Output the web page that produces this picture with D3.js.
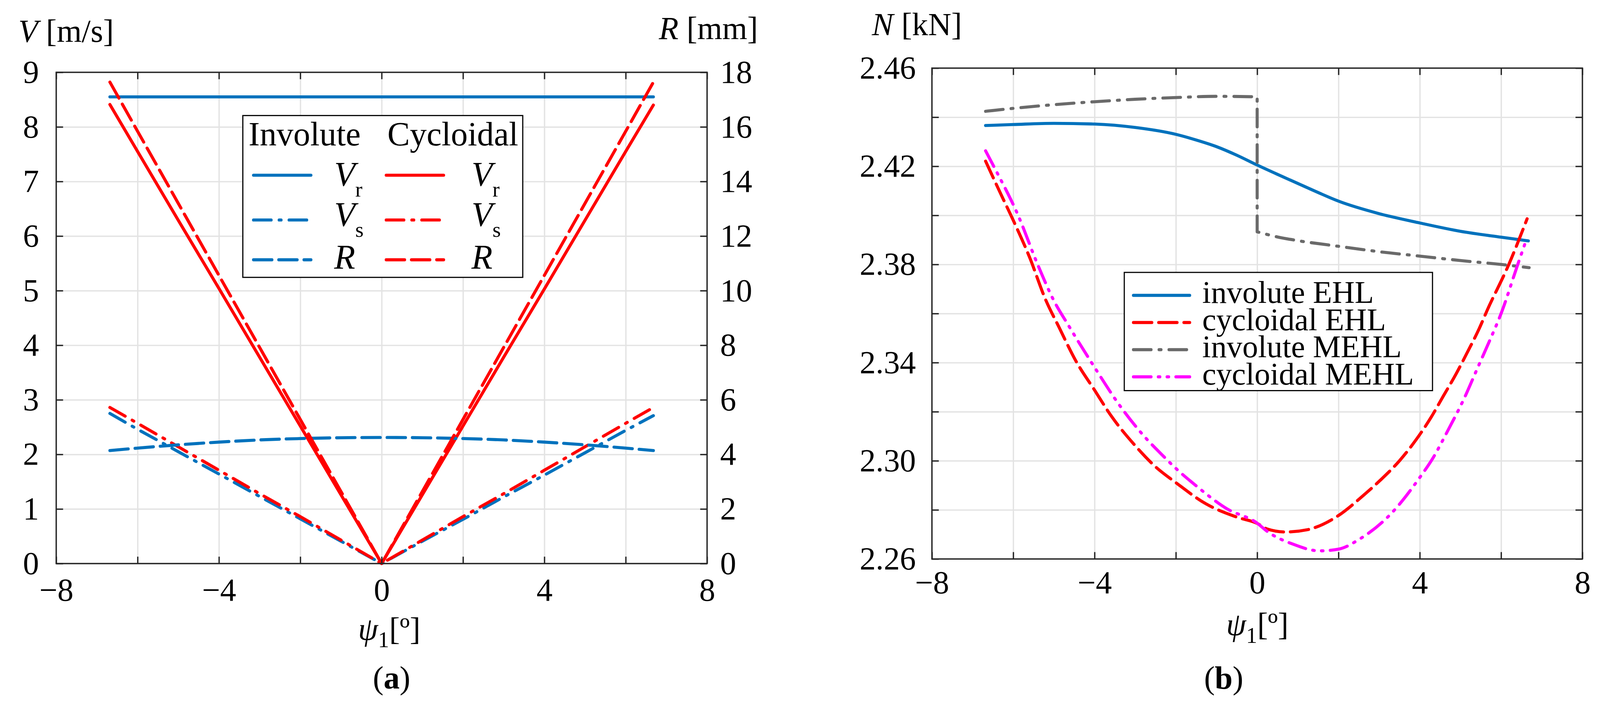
<!DOCTYPE html>
<html>
<head>
<meta charset="utf-8">
<script src="https://cdn.jsdelivr.net/npm/d3@7"></script>
<style>
	html, body { margin: 0; padding: 0; background: #fff; overflow: hidden; }
	svg { display: block; width: 100vw; height: auto; font-family: 'Liberation Serif', 'Times New Roman', serif; }
	.grid line { stroke: #e3e3e3; stroke-width: 3.5; }
	.grid .domain, .axis .domain { display: none; }
	.axis line { stroke: #262626; stroke-width: 3.5; }
	.axis text { fill: #000; font-size: 84px; font-family: 'Liberation Serif', 'Times New Roman', serif; }
	.series { fill: none; stroke-width: 8; stroke-linecap: round; stroke-linejoin: round; }
</style>
</head>
<body>
<svg id="chart" viewBox="0 0 4184 1850" preserveAspectRatio="xMinYMin meet"></svg>
<script>
// ---- data, panel (a): velocities [m/s] and radius [mm] vs psi1 [deg]
const psiA   = [-6.68, -6, -5, -4, -3, -2, -1, 0, 1, 2, 3, 4, 5, 6, 6.68];
const invVr  = [8.55, 8.55, 8.55, 8.55, 8.55, 8.55, 8.55, 8.55, 8.55, 8.55, 8.55, 8.55, 8.55, 8.55, 8.55];
const invVs  = [2.75, 2.46, 2.05, 1.64, 1.23, 0.82, 0.41, 0, 0.41, 0.81, 1.22, 1.62, 2.03, 2.44, 2.71];
const invR   = [4.14, 4.23, 4.35, 4.45, 4.53, 4.58, 4.61, 4.62, 4.61, 4.58, 4.53, 4.45, 4.35, 4.23, 4.14];
const cycVr  = [8.41, 7.55, 6.29, 5.04, 3.78, 2.52, 1.26, 0, 1.26, 2.52, 3.78, 5.03, 6.29, 7.55, 8.40];
const cycVs  = [2.86, 2.57, 2.14, 1.71, 1.28, 0.86, 0.43, 0, 0.43, 0.86, 1.28, 1.71, 2.14, 2.57, 2.86];
const cycR   = [17.64, 15.84, 13.20, 10.56, 7.92, 5.28, 2.64, 0, 2.64, 5.28, 7.92, 10.56, 13.20, 15.84, 17.64];

// ---- data, panel (b): normal load N [kN] vs psi1 [deg]
const psiInvEHL = [-6.68, -6, -5, -4, -3, -2, -1.5, -1, -0.5, 0, 0.5, 1, 1.5, 2, 3, 4, 5, 6, 6.67];
const nInvEHL   = [2.4366, 2.4370, 2.4375, 2.4372, 2.4358, 2.4330, 2.4307, 2.4280, 2.4245, 2.4205,
	2.4167, 2.4130, 2.4093, 2.4058, 2.4007, 2.3969, 2.3935, 2.3911, 2.3896];
const psiCycEHL = [-6.68, -6.3, -6.0, -5.6, -5.2, -4.876, -4.463, -4.0, -3.586, -3.018, -2.503, -2.0,
	-1.264, -0.49, 0, 0.25, 0.71, 1.23, 2.0, 2.62, 3.03, 3.50, 3.91, 4.27, 4.58, 4.89, 5.17, 5.46, 5.66, 6.19, 6.64];
const nCycEHL   = [2.4221, 2.4085, 2.3980, 2.3830, 2.3655, 2.3545, 2.3408, 2.3288, 2.3182, 2.3065, 2.2976, 2.2911,
	2.2825, 2.2770, 2.2745, 2.2722, 2.2710, 2.2719, 2.2777, 2.2860, 2.2921, 2.3000, 2.3086, 2.3175, 2.3264, 2.3353,
	2.3442, 2.3538, 2.3614, 2.3800, 2.3986];
const psiInvMEHL = [-6.68, -6, -5, -4, -3, -2, -1, 0, 0, 0.5, 1, 2, 3, 4, 5, 6, 6.69];
const nInvMEHL   = [2.4424, 2.4436, 2.4451, 2.4463, 2.4473, 2.4480, 2.4485, 2.4483, 2.3933, 2.3912, 2.3897,
	2.3874, 2.3852, 2.3834, 2.3816, 2.3800, 2.3787];
const psiCycMEHL = [-6.68, -6.48, -5.88, -5.40, -5.03, -4.617, -4.0, -3.431, -2.812, -2.296, -2.0, -1.522, -0.749,
	0, 0.25, 0.87, 1.54, 2.0, 2.52, 3.29, 4.0, 4.32, 4.68, 5.10, 5.41, 5.72, 6.0, 6.41, 6.63];
const nCycMEHL   = [2.4263, 2.4200, 2.4000, 2.3800, 2.3662, 2.3545, 2.3381, 2.3237, 2.3106, 2.3017, 2.2969, 2.2901,
	2.2805, 2.2746, 2.2712, 2.2661, 2.2633, 2.2640, 2.2681, 2.2784, 2.2932, 2.3010, 2.3120, 2.3257, 2.3374, 2.3490,
	2.3600, 2.3800, 2.3905];

// ---- ticks
const xTicks = [-8, -6, -4, -2, 0, 2, 4, 6, 8];
const xTickLabels = [-8, -4, 0, 4, 8];
const vTicks = [0, 1, 2, 3, 4, 5, 6, 7, 8, 9];
const rTicks = [0, 2, 4, 6, 8, 10, 12, 14, 16, 18];
const nTicks = [2.26, 2.28, 2.30, 2.32, 2.34, 2.36, 2.38, 2.40, 2.42, 2.44, 2.46];
const nTickLabels = ['2.26', '2.30', '2.34', '2.38', '2.42', '2.46'];

// ---- legend texts
const legendA = [
	{ main: 'V', sub: 'r' },
	{ main: 'V', sub: 's' },
	{ main: 'R', sub: '' }
];
const legendB = ['involute EHL', 'cycloidal EHL', 'involute MEHL', 'cycloidal MEHL'];

// ---- styles
const BLUE = '#0072bd', RED = '#ff0000', GRAY = '#6a6a6a', MAGENTA = '#ff00ff';
const DASH = '48,18';
const DASHDOT = '46,21,5,21';
const DASHDOTDOT = '46,19,4,19,4,19';
const TICK = 18;
const FONT = "'Liberation Serif', 'Times New Roman', serif";

const svg = d3.select('#chart');

const panelA = { left: 147, right: 1849, top: 189, bottom: 1473 };
const panelB = { left: 2437, right: 4138, top: 178, bottom: 1461 };

const xA = d3.scaleLinear().domain([-8, 8]).range([panelA.left, panelA.right]);
const vA = d3.scaleLinear().domain([0, 9]).range([panelA.bottom, panelA.top]);
const rA = d3.scaleLinear().domain([0, 18]).range([panelA.bottom, panelA.top]);
const xB = d3.scaleLinear().domain([-8, 8]).range([panelB.left, panelB.right]);
const nB = d3.scaleLinear().domain([2.26, 2.46]).range([panelB.bottom, panelB.top]);

const fmtX = d3.format('d');

// split where psi does not increase (vertical jump), smooth each run
const seriesPath = (xs, ys, x, y, curve) => {
	const runs = [[0]];
	for (let i = 1; i < xs.length; i++) {
		if (xs[i] > xs[i - 1]) runs[runs.length - 1].push(i);
		else runs.push([i]);
	}
	const line = d3.line().curve(curve).x(i => x(xs[i])).y(i => y(ys[i]));
	return runs.map((r, k) => {
		const p = line(r);
		return k === 0 ? p : 'L' + p.slice(1);
	}).join('');
};

// axis group with serif labels (d3 puts sans-serif on the group)
const axisGroup = (tx, ty) => svg.append('g')
	.attr('class', 'axis')
	.attr('transform', `translate(${tx}, ${ty})`);
const serif = g => g.attr('font-family', FONT).attr('font-size', 84);

const drawGrid = (p, x, y, yTicks) => {
	svg.append('g')
		.attr('class', 'grid')
		.attr('transform', `translate(0, ${p.bottom})`)
		.call(d3.axisBottom(x).tickValues(xTicks).tickSize(-(p.bottom - p.top)).tickFormat(''));
	svg.append('g')
		.attr('class', 'grid')
		.attr('transform', `translate(${p.left}, 0)`)
		.call(d3.axisLeft(y).tickValues(yTicks).tickSize(-(p.right - p.left)).tickFormat(''));
};

const drawFrame = (p) => {
	svg.append('rect')
		.attr('x', p.left).attr('y', p.top)
		.attr('width', p.right - p.left).attr('height', p.bottom - p.top)
		.attr('fill', 'none').attr('stroke', '#262626').attr('stroke-width', 3.5);
};

const drawXAxes = (p, x, pad) => {
	axisGroup(0, p.bottom)
		.call(d3.axisBottom(x).tickValues(xTicks).tickSize(-TICK).tickSizeOuter(0).tickPadding(pad)
			.tickFormat(d => xTickLabels.includes(d) ? fmtX(d) : ''))
		.call(serif);
	axisGroup(0, p.top)
		.call(d3.axisTop(x).tickValues(xTicks).tickSize(-TICK).tickSizeOuter(0).tickFormat(''));
};

const psiTitle = (cx, baseline) => {
	const t = svg.append('text')
		.attr('x', cx).attr('y', baseline)
		.attr('text-anchor', 'middle')
		.style('font-size', '84px');
	t.append('tspan').attr('font-style', 'italic').text('ψ');
	t.append('tspan').attr('dy', 20).style('font-size', '58px').text('1');
	t.append('tspan').attr('dy', -20).text('[º]');
};

const caption = (cx, letter) => {
	const t = svg.append('text')
		.attr('x', cx).attr('y', 1800)
		.attr('text-anchor', 'middle')
		.style('font-size', '84px');
	t.append('tspan').text('(');
	t.append('tspan').attr('font-weight', 'bold').text(letter);
	t.append('tspan').text(')');
};

// ================= panel (a)
drawGrid(panelA, xA, vA, vTicks);

const seriesA = [
	{ xs: psiA, ys: invVr, y: vA, color: BLUE, dash: null, curve: d3.curveLinear },
	{ xs: psiA, ys: invVs, y: vA, color: BLUE, dash: DASHDOT, curve: d3.curveLinear },
	{ xs: psiA, ys: cycVr, y: vA, color: RED, dash: null, curve: d3.curveLinear },
	{ xs: psiA, ys: cycVs, y: vA, color: RED, dash: DASHDOT, curve: d3.curveLinear },
	{ xs: psiA, ys: invR, y: rA, color: BLUE, dash: DASH, curve: d3.curveMonotoneX },
	{ xs: psiA, ys: cycR, y: rA, color: RED, dash: DASH, curve: d3.curveLinear }
];
svg.append('g').selectAll('path')
	.data(seriesA)
	.enter().append('path')
		.attr('class', 'series')
		.attr('d', s => seriesPath(s.xs, s.ys, xA, s.y, s.curve))
		.attr('stroke', s => s.color)
		.attr('stroke-dasharray', s => s.dash);

drawFrame(panelA);
drawXAxes(panelA, xA, 37);
axisGroup(panelA.left, 0)
	.call(d3.axisLeft(vA).tickValues(vTicks).tickSize(-TICK).tickSizeOuter(0).tickPadding(45).tickFormat(d3.format('d')))
	.call(serif);
axisGroup(panelA.right, 0)
	.call(d3.axisRight(rA).tickValues(rTicks).tickSize(-TICK).tickSizeOuter(0).tickPadding(34).tickFormat(d3.format('d')))
	.call(serif);

// axis titles
const vTitle = svg.append('text').attr('x', 48).attr('y', 109).style('font-size', '84px');
vTitle.append('tspan').attr('font-style', 'italic').text('V');
vTitle.append('tspan').text(' [m/s]');
const rTitle = svg.append('text').attr('x', 1982).attr('y', 102).attr('text-anchor', 'end').style('font-size', '84px');
rTitle.append('tspan').attr('font-style', 'italic').text('R');
rTitle.append('tspan').text(' [mm]');
psiTitle(1018, 1672);
caption(1024, 'a');

// legend (a)
const legA = svg.append('g');
legA.append('rect')
	.attr('x', 635).attr('y', 302).attr('width', 732).attr('height', 423)
	.attr('fill', '#fff').attr('stroke', '#000').attr('stroke-width', 3);
const colsA = [
	{ title: 'Involute', x0: 650, lx: 663, tx: 874, color: BLUE },
	{ title: 'Cycloidal', x0: 1013, lx: 1010, tx: 1233, color: RED }
];
const rowsA = [
	{ ly: 458, ty: 485, dash: null },
	{ ly: 575, ty: 590, dash: DASHDOT },
	{ ly: 679, ty: 702, dash: DASH }
];
colsA.forEach(c => {
	legA.append('text').attr('x', c.x0).attr('y', 380).style('font-size', '88px').text(c.title);
	rowsA.forEach((r, i) => {
		legA.append('line')
			.attr('class', 'series')
			.attr('x1', c.lx).attr('x2', c.lx + 150)
			.attr('y1', r.ly).attr('y2', r.ly)
			.attr('stroke', c.color)
			.attr('stroke-dasharray', r.dash);
		const t = legA.append('text').attr('x', c.tx).attr('y', r.ty).style('font-size', '90px');
		t.append('tspan').attr('font-style', 'italic').text(legendA[i].main);
		if (legendA[i].sub) {
			t.append('tspan').attr('dy', 29).style('font-size', '56px').text(legendA[i].sub);
		}
	});
});

// ================= panel (b)
drawGrid(panelB, xB, nB, nTicks);

const seriesB = [
	{ xs: psiInvEHL, ys: nInvEHL, color: BLUE, dash: null },
	{ xs: psiCycEHL, ys: nCycEHL, color: RED, dash: DASH },
	{ xs: psiInvMEHL, ys: nInvMEHL, color: GRAY, dash: DASHDOT },
	{ xs: psiCycMEHL, ys: nCycMEHL, color: MAGENTA, dash: DASHDOTDOT }
];
svg.append('g').selectAll('path')
	.data(seriesB)
	.enter().append('path')
		.attr('class', 'series')
		.attr('d', s => seriesPath(s.xs, s.ys, xB, nB, d3.curveMonotoneX))
		.attr('stroke', s => s.color)
		.attr('stroke-dasharray', s => s.dash);

drawFrame(panelB);
drawXAxes(panelB, xB, 30);
axisGroup(panelB.left, 0)
	.call(d3.axisLeft(nB).tickValues(nTicks).tickSize(-TICK).tickSizeOuter(0).tickPadding(42)
		.tickFormat(d => nTickLabels.includes(d.toFixed(2)) ? d.toFixed(2) : ''))
	.call(serif);
axisGroup(panelB.right, 0)
	.call(d3.axisRight(nB).tickValues(nTicks).tickSize(-TICK).tickSizeOuter(0).tickFormat(''));

const nTitle = svg.append('text').attr('x', 2280).attr('y', 92).style('font-size', '84px');
nTitle.append('tspan').attr('font-style', 'italic').text('N');
nTitle.append('tspan').text(' [kN]');
psiTitle(3288, 1660);
caption(3200, 'b');

// legend (b)
const legB = svg.append('g');
legB.append('rect')
	.attr('x', 2940).attr('y', 712).attr('width', 806).attr('height', 309)
	.attr('fill', '#fff').attr('stroke', '#000').attr('stroke-width', 3);
const rowYB = [772, 843, 914, 985];
legB.selectAll('line')
	.data(seriesB)
	.enter().append('line')
		.attr('class', 'series')
		.attr('x1', 2964).attr('x2', 3111)
		.attr('y1', (d, i) => rowYB[i]).attr('y2', (d, i) => rowYB[i])
		.attr('stroke', d => d.color)
		.attr('stroke-dasharray', d => d.dash);
legB.selectAll('text')
	.data(legendB)
	.enter().append('text')
		.attr('x', 3144)
		.attr('y', (d, i) => rowYB[i] + 20)
		.style('font-size', '82px')
		.text(d => d);
</script>
</body>
</html>
